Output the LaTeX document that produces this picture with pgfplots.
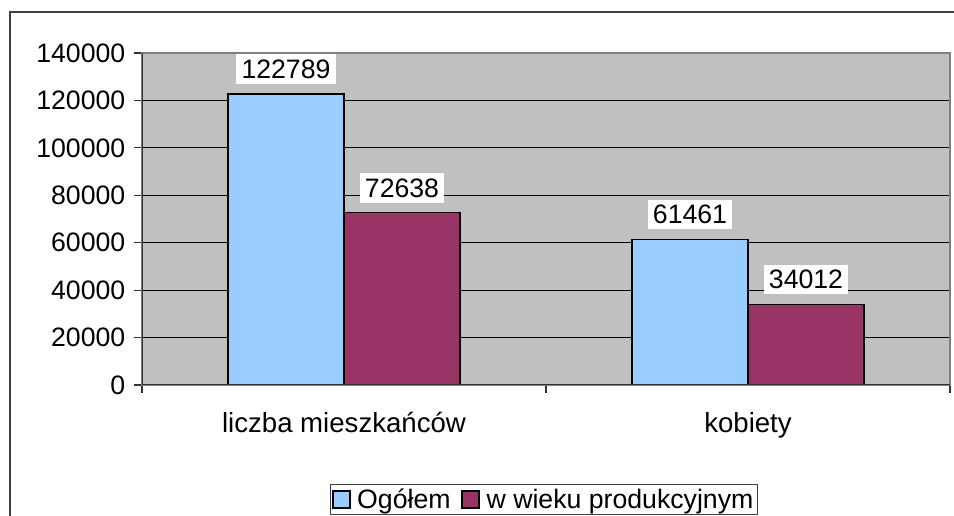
\documentclass[border=0pt]{standalone}
\usepackage{pgfplots}
\pgfplotsset{compat=1.18}
\usepackage{fontspec}
\setmainfont{Liberation Sans}
\definecolor{barblue}{HTML}{99CCFF}
\definecolor{barmaroon}{HTML}{993366}
\definecolor{plotgray}{HTML}{C0C0C0}
\newcommand{\cf}{\fontsize{20}{23}\selectfont}
\newcommand{\lf}{\fontsize{20.7}{24}\selectfont}
\begin{document}
\begin{tikzpicture}
\path[use as bounding box] (0pt,0pt) rectangle (715.5pt,387pt);
\clip (0pt,0pt) rectangle (715.5pt,387pt);
\fill[white] (0pt,0pt) rectangle (715.5pt,387pt);
\draw[line width=1pt, black!75] (7.5pt,-30pt) rectangle (740pt,378pt);
\begin{axis}[
  at={(106.5pt,98.25pt)}, anchor=south west,
  scale only axis, width=606pt, height=249pt,
  xmin=-0.5, xmax=1.5, ymin=0, ymax=140000,
  ybar=0pt, bar width=87pt,
  axis background/.style={fill=plotgray},
  axis line style={draw=black!50, line width=1pt},
  ytick={0,20000,...,140000},
  scaled y ticks=false,
  /pgf/number format/fixed,
  /pgf/number format/precision=0,
  /pgf/number format/1000 sep={},
  /pgf/number format/assume math mode=true,
  ymajorgrids, grid style={black, line width=0.8pt},
  tick align=outside, major tick length=6pt,
  xtick pos=lower, ytick pos=left,
  tick style={black!80, line width=0.8pt},
  xtick={-0.5,0.5,1.5}, xticklabels={},
  extra x ticks={0,1},
  extra x tick labels={liczba mieszkańców, kobiety},
  extra x tick style={major tick length=0pt, tick style={draw=none}, xticklabel style={yshift=-17pt, font=\lf}},
  ticklabel style={font=\cf},
  yticklabel style={xshift=-3pt},
  nodes near coords,
  every node near coord/.append style={font=\cf, fill=white, inner sep=4pt, anchor=south, yshift=7pt},
  legend columns=2,
  legend style={at={(0.4975,-0.2982)}, anchor=north, draw=black!75, line width=0.8pt, font=\cf, inner sep=1pt,
    /tikz/every odd column/.append style={column sep=3pt},
    /tikz/every even column/.append style={column sep=6pt}},
  legend image code/.code={\draw[#1, draw=black, line width=1.4pt] (0pt,-6.3pt) rectangle (12.6pt,6.3pt);},
]
\addplot[fill=barblue, draw=black, line width=1.1pt] coordinates {(0,122789) (1,61461)};
\addplot[fill=barmaroon, draw=black, line width=1.1pt] coordinates {(0,72638) (1,34012)};
\legend{Ogółem, w wieku produkcyjnym}
\draw[black!80, line width=1pt] (rel axis cs:0,0) -- (rel axis cs:0,1);
\draw[black!80, line width=1pt] (rel axis cs:0,0) -- (rel axis cs:1,0);
\end{axis}
\end{tikzpicture}
\end{document}
